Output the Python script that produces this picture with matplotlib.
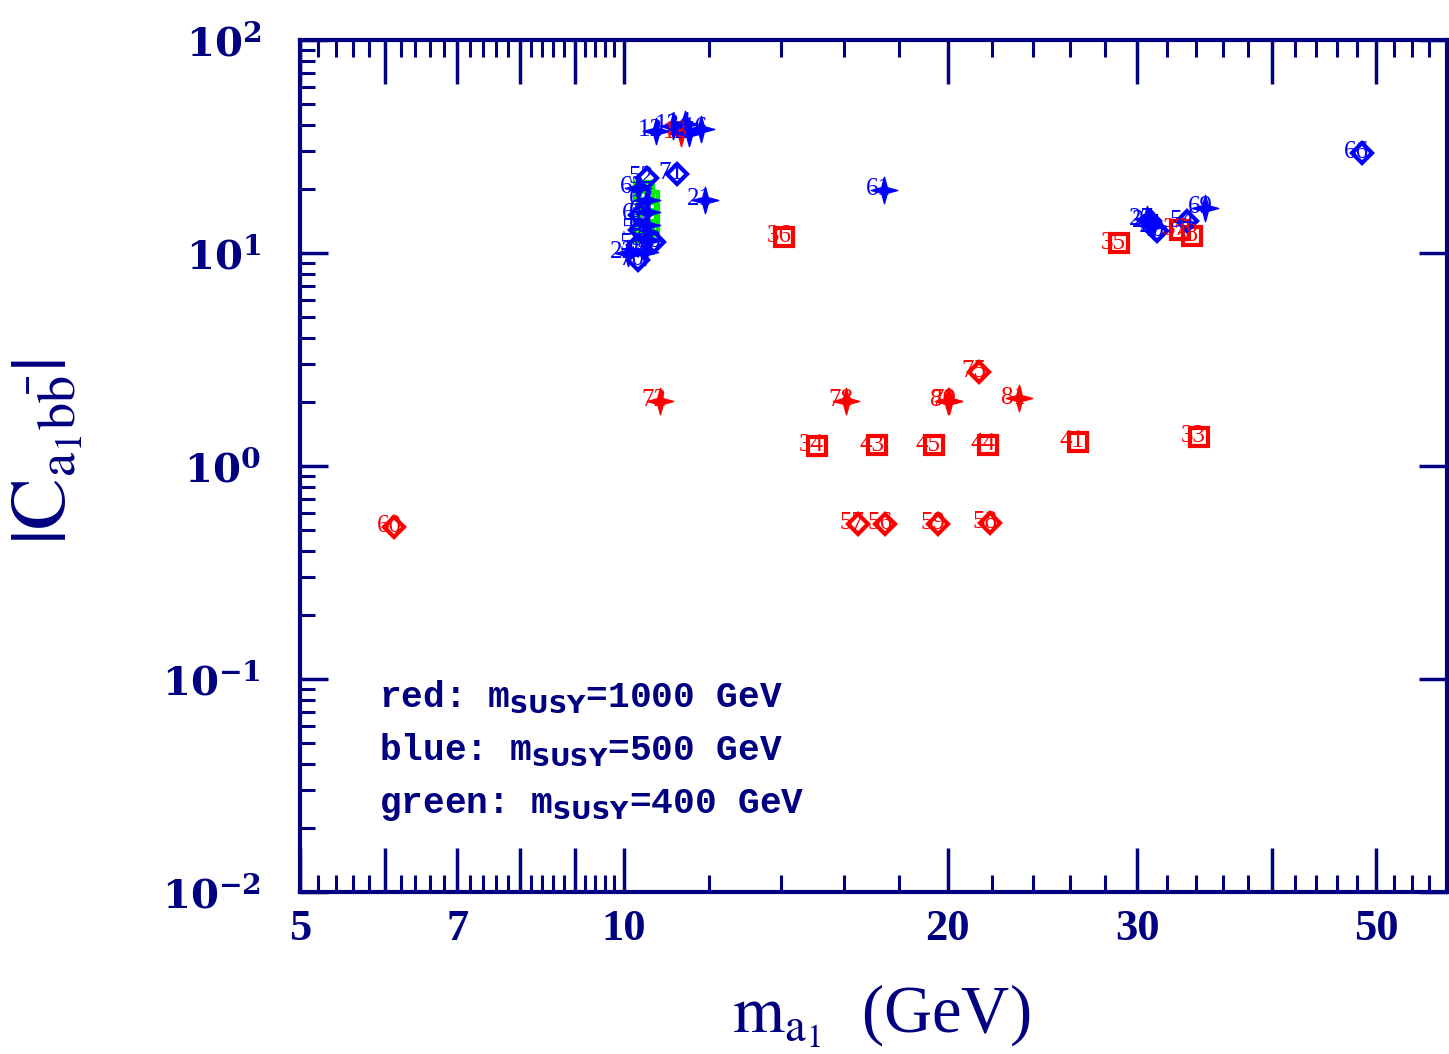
import numpy as np
import matplotlib.pyplot as plt
from matplotlib.path import Path
from matplotlib.ticker import NullFormatter, LogLocator

plt.rcParams['mathtext.fontset'] = 'dejavuserif'

navy = '#000080'

# red: m_SUSY = 1000 GeV
red_sq_x = [14.1, 28.85, 32.9, 33.7, 15.1, 17.2, 19.4, 21.8, 26.4, 34.2]
red_sq_y = [11.9, 11.1, 12.8, 12.0, 1.24, 1.25, 1.25, 1.26, 1.30, 1.37]
red_sq_lab = ['36', '35', '37', '38', '34', '43', '45', '44', '41', '33']

red_dm_x = [6.12, 16.5, 17.5, 19.6, 21.9, 21.4]
red_dm_y = [0.517, 0.535, 0.535, 0.535, 0.541, 2.76]
red_dm_lab = ['60', '57', '56', '59', '58', '75']

red_st_x = [10.8, 16.1, 20.0, 20.05, 23.3, 11.3]
red_st_y = [2.02, 2.02, 2.02, 2.02, 2.08, 36.6]
red_st_lab = ['72', '78', '80', '79', '81', '13']

# blue: m_SUSY = 500 GeV
blue_st_x = [10.7, 11.1, 11.4, 11.5, 11.8, 11.9, 17.45, 10.3, 10.5, 10.5,
             10.5, 10.55, 10.09, 10.46, 30.6, 31.0, 34.7]
blue_st_y = [37.4, 39.4, 40.4, 36.6, 38.2, 17.7, 19.8, 20.2, 17.7, 15.6,
             13.5, 11.5, 10.0, 10.1, 14.4, 13.4, 16.3]
blue_st_lab = ['12', '13', '14', '15', '16', '21', '61', '62', '63', '64',
               '65', '51', '22', '23', '27', '47', '69']

blue_dm_x = [11.2, 10.5, 10.35, 10.35, 10.3, 10.67, 10.3, 30.8, 31.3, 33.4, 48.5]
blue_dm_y = [23.5, 22.5, 15.1, 12.8, 10.9, 11.3, 9.27, 14.1, 12.7, 14.1, 29.5]
blue_dm_lab = ['71', '52', '67', '53', '55', '50', '70', '28', '40', '54', '66']

# green: m_SUSY = 400 GeV
green_sq_x = [10.45, 10.55, 10.5, 10.55, 10.45]
green_sq_y = [19.5, 17.5, 15.5, 13.8, 12.6]

fig = plt.figure(figsize=(14.49, 10.54), dpi=100)
ax = fig.add_axes([300/1449, 1-892/1054, 1147/1449, 852/1054])
ax.set_xscale('log')
ax.set_yscale('log')

star = Path.unit_regular_star(4, 0.3)


def put(xs, ys, labs, col, mk, ms, filled):
    ax.plot(xs, ys, ls='none', marker=mk, ms=ms, mec=col,
            mfc=col if filled else 'none', mew=1.0 if filled else 3.0)
    for x, y, l in zip(xs, ys, labs):
        ax.annotate(l, (x, y), xytext=(5, 0.5), textcoords='offset points',
                    ha='right', va='center', color=col, fontsize=18,
                    family='Liberation Serif')


ax.plot(green_sq_x, green_sq_y, ls='none', marker='s', ms=13, mec='#00ee00',
        mfc='none', mew=3.0)
put(red_sq_x, red_sq_y, red_sq_lab, 'red', 's', 13, False)
put(red_dm_x, red_dm_y, red_dm_lab, 'red', 'D', 10.5, False)
put(red_st_x, red_st_y, red_st_lab, 'red', star, 19, True)
put(blue_st_x, blue_st_y, blue_st_lab, 'blue', star, 19, True)
put(blue_dm_x, blue_dm_y, blue_dm_lab, 'blue', 'D', 10.5, False)

ax.set_xlim(5, 58.2)
ax.set_ylim(1e-2, 1e2)

xmaj = [5, 6, 7, 8, 9, 10, 20, 30, 40, 50]
xlab = ['5', '', '7', '', '', '10', '20', '30', '', '50']
ax.set_xticks(xmaj, xlab)
xmin = [v for v in np.round(np.arange(5.2, 10, 0.2), 1) if v != int(v)]
xmin += [v for v in range(12, 58, 2) if v % 10 != 0]
ax.set_xticks(xmin, minor=True)
ax.xaxis.set_minor_formatter(NullFormatter())

ax.set_yticks([1e-2, 1e-1, 1, 10, 100],
              [r'$\mathbf{10^{-2}}$', r'$\mathbf{10^{-1}}$', r'$\mathbf{10^{0}}$',
               r'$\mathbf{10^{1}}$', r'$\mathbf{10^{2}}$'])
ax.yaxis.set_minor_locator(LogLocator(subs=np.arange(2, 10)))
ax.yaxis.set_minor_formatter(NullFormatter())

ax.tick_params(axis='x', which='major', direction='in', length=32, width=2.5,
               top=True, bottom=True, pad=12, labelsize=32, color=navy,
               labelcolor=navy)
ax.tick_params(axis='x', which='minor', direction='in', length=12, width=2.2,
               top=True, bottom=True, color=navy)
ax.tick_params(axis='y', which='major', direction='in', length=20, width=2.5,
               left=True, right=True, pad=28, labelsize=29, color=navy,
               labelcolor=navy)
ax.tick_params(axis='y', which='minor', direction='in', length=11, width=2.2,
               left=True, right=False, color=navy)
for lbl in ax.get_xticklabels():
    lbl.set_fontfamily('Liberation Serif')
    lbl.set_fontweight('bold')

for s in ax.spines.values():
    s.set_linewidth(3)
    s.set_color(navy)

fig.text(881/1449, 1-1033/1054, r'$\mathrm{m_{a_1}}$  (GeV)', ha='center',
         va='baseline', fontsize=48, color=navy, family='Liberation Serif',
         math_fontfamily='stix')
fig.text(47/1449, 1-452/1054, r'$|\mathrm{C}_{\mathrm{a_1 b\bar{b}}}|$',
         rotation=90, ha='center', va='center', fontsize=56, color=navy,
         math_fontfamily='stix')

leg = [('red: m$_{\\mathbf{SUSY}}$=1000 GeV', 0.2171),
       ('blue: m$_{\\mathbf{SUSY}}$=500 GeV', 0.1549),
       ('green: m$_{\\mathbf{SUSY}}$=400 GeV', 0.0927)]
for t, yy in leg:
    ax.text(0.069, yy, t, transform=ax.transAxes, va='baseline', ha='left',
            fontsize=26, fontweight='bold', family='Liberation Mono',
            color=navy, math_fontfamily='dejavusans')

fig.savefig('out.png', dpi=100)
